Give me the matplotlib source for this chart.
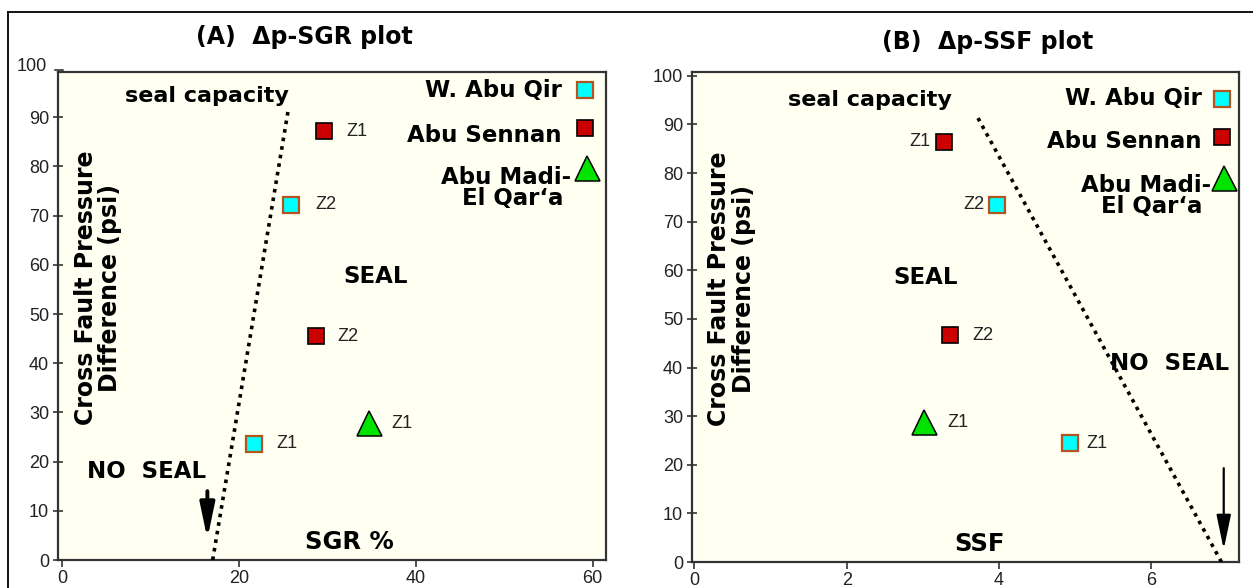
import matplotlib
matplotlib.use("Agg")
import matplotlib.pyplot as plt
from matplotlib.lines import Line2D

# ---------------- data ----------------
# Panel A: delta p vs SGR
sgr_wabuqir = [21.7, 25.9]
dp_sgr_wabuqir = [23.6, 72.2]
zones_wabuqir_a = ["Z1", "Z2"]

sgr_abusennan = [29.6, 28.7]
dp_sgr_abusennan = [87.2, 45.5]
zones_abusennan_a = ["Z1", "Z2"]

sgr_abumadi = [34.7]
dp_sgr_abumadi = [27.8]
zones_abumadi_a = ["Z1"]

seal_line_sgr = [17.0, 25.6]
seal_line_sgr_dp = [0.0, 92.0]

# Panel B: delta p vs SSF
ssf_wabuqir = [4.93, 3.98]
dp_ssf_wabuqir = [24.4, 73.5]
zones_wabuqir_b = ["Z1", "Z2"]

ssf_abusennan = [3.28, 3.36]
dp_ssf_abusennan = [86.4, 46.6]
zones_abusennan_b = ["Z1", "Z2"]

ssf_abumadi = [3.01]
dp_ssf_abumadi = [28.7]
zones_abumadi_b = ["Z1"]

seal_line_ssf = [6.92, 3.70]
seal_line_ssf_dp = [0.0, 92.0]

sgr_ticks = [0, 20, 40, 60]
ssf_ticks = [0, 2, 4, 6]
dp_ticks_a = [0, 10, 20, 30, 40, 50, 60, 70, 80, 90]
dp_ticks_b = [0, 10, 20, 30, 40, 50, 60, 70, 80, 90, 100]

# ---------------- style ----------------
BG = "#fffff2"
BOLD = dict(family="DejaVu Sans", weight="bold")
REG = dict(family="Liberation Sans")
CYAN = dict(marker="s", ms=11, mfc="#00ffff", mec="#b4541e", mew=1.6, ls="none")
RED = dict(marker="s", ms=11.5, mfc="#cc0000", mec="black", mew=1.2, ls="none")
GREEN = dict(marker="^", ms=18, mfc="#00e400", mec="black", mew=1.1, ls="none")
ARROW = "-|>,head_length=1.05,head_width=0.22"

fig = plt.figure(figsize=(12.53, 5.88), dpi=100)
fig.patch.set_facecolor("white")

axA = fig.add_axes([0.0463, 0.0476, 0.4373, 0.8300])
axB = fig.add_axes([0.5523, 0.0442, 0.4365, 0.8334])


def style_axes(ax, xlim, ylim, xticks, yticks):
    ax.set_facecolor(BG)
    ax.set_xlim(*xlim)
    ax.set_ylim(*ylim)
    ax.set_xticks(xticks)
    ax.set_yticks(yticks)
    for s in ax.spines.values():
        s.set_linewidth(1.6)
        s.set_color("#333333")
    ax.tick_params(axis="y", direction="inout", length=7, width=1.1,
                   labelsize=13, pad=3, colors="#222222")
    ax.tick_params(axis="x", direction="out", length=5, width=1.1,
                   labelsize=13, pad=2, colors="#222222")
    for lab in ax.get_xticklabels() + ax.get_yticklabels():
        lab.set_family("Liberation Sans")
    ax.text(0.073, 0.557, "Cross Fault Pressure\nDifference (psi)",
            transform=ax.transAxes, rotation=90, ha="center", va="center",
            fontsize=17, linespacing=1.05, **BOLD)


def plot_points(ax, xs, ys, zones, style, offsets):
    ax.plot(xs, ys, **style, zorder=5)
    for x, y, z, off in zip(xs, ys, zones, offsets):
        ha = "left" if off > 0 else "right"
        ax.annotate(z, (x, y), xytext=(off, 0), textcoords="offset points",
                    ha=ha, va="center", fontsize=13, color="#222222", **REG)


# ---------------- panel A ----------------
style_axes(axA, (-0.5, 61.5), (0, 99.2), sgr_ticks, dp_ticks_a)
# "100" tick sits just above the frame in the original
axA.text(-0.02, 100.3, "100", transform=axA.get_yaxis_transform(), ha="right",
         va="center", fontsize=13, color="#222222", clip_on=False, **REG)
axA.plot([-0.005, 0.01], [99.6, 99.6], transform=axA.get_yaxis_transform(),
         color="#222222", lw=1.1, clip_on=False)

axA.plot(seal_line_sgr, seal_line_sgr_dp, color="black", lw=2.6,
         ls=(0, (1.0, 1.4)), zorder=3)
plot_points(axA, sgr_wabuqir, dp_sgr_wabuqir, zones_wabuqir_a, CYAN, [16, 17])
plot_points(axA, sgr_abusennan, dp_sgr_abusennan, zones_abusennan_a, RED, [16, 15])
plot_points(axA, sgr_abumadi, dp_sgr_abumadi, zones_abumadi_a, GREEN, [16])

# legend-like labels
axA.plot([59.1], [95.5], **CYAN)
axA.plot([59.1], [87.8], **RED)
axA.plot([59.4], [79.6], **GREEN)
axA.text(56.5, 95.5, "W. Abu Qir", ha="right", va="center", fontsize=16.5, **BOLD)
axA.text(56.5, 86.2, "Abu Sennan", ha="right", va="center", fontsize=16.5, **BOLD)
axA.text(57.6, 75.6, "Abu Madi-\nEl Qar\u2018a ", ha="right", va="center",
         multialignment="right", linespacing=0.9, fontsize=16.5, **BOLD)

axA.text(16.3, 94.3, "seal capacity", ha="center", va="center", fontsize=16, **BOLD)
axA.text(35.4, 57.7, "SEAL", ha="center", va="center", fontsize=16.5, **BOLD)
axA.text(9.5, 17.9, "NO  SEAL", ha="center", va="center", fontsize=16.5, **BOLD)
axA.text(32.5, 3.6, "SGR %", ha="center", va="center", fontsize=17.5, **BOLD)
axA.annotate("", xy=(16.4, 4.3), xytext=(16.4, 14.0),
             arrowprops=dict(arrowstyle=ARROW, lw=2.8, color="black",
                             mutation_scale=20, shrinkA=0, shrinkB=0))

# ---------------- panel B ----------------
style_axes(axB, (-0.03, 7.15), (0, 100.8), ssf_ticks, dp_ticks_b)

axB.plot(seal_line_ssf, seal_line_ssf_dp, color="black", lw=2.6,
         ls=(0, (1.0, 1.4)), zorder=3)
plot_points(axB, ssf_wabuqir, dp_ssf_wabuqir, zones_wabuqir_b, CYAN, [12, -9])
plot_points(axB, ssf_abusennan, dp_ssf_abusennan, zones_abusennan_b, RED, [-10, 16])
plot_points(axB, ssf_abumadi, dp_ssf_abumadi, zones_abumadi_b, GREEN, [17])

axB.plot([6.93], [95.3], **CYAN)
axB.plot([6.93], [87.5], **RED)
axB.plot([6.95], [78.9], **GREEN)
axB.text(6.66, 95.3, "W. Abu Qir", ha="right", va="center", fontsize=16.5, **BOLD)
axB.text(6.66, 86.4, "Abu Sennan", ha="right", va="center", fontsize=16.5, **BOLD)
axB.text(6.78, 75.3, "Abu Madi-\nEl Qar\u2018a ", ha="right", va="center",
         multialignment="right", linespacing=0.9, fontsize=16.5, **BOLD)

axB.text(2.31, 95.0, "seal capacity", ha="center", va="center", fontsize=16, **BOLD)
axB.text(3.04, 58.5, "SEAL", ha="center", va="center", fontsize=16.5, **BOLD)
axB.text(6.24, 40.9, "NO  SEAL", ha="center", va="center", fontsize=16.5, **BOLD)
axB.text(3.75, 3.8, "SSF", ha="center", va="center", fontsize=17.5, **BOLD)
axB.annotate("", xy=(6.95, 2.6), xytext=(6.95, 19.3),
             arrowprops=dict(arrowstyle=ARROW, lw=1.6, color="black",
                             mutation_scale=20, shrinkA=0, shrinkB=0))

# ---------------- titles and figure border ----------------
fig.text(0.2426, 0.937, "(A)  \u0394p-SGR plot", ha="center", va="center",
         fontsize=17, **BOLD)
fig.text(0.7885, 0.9286, "(B)  \u0394p-SSF plot", ha="center", va="center",
         fontsize=17, **BOLD)

fig.add_artist(Line2D([0.0064, 1.0], [0.9796, 0.9796], transform=fig.transFigure,
                      color="black", lw=1.3))
fig.add_artist(Line2D([0.0064, 0.0064], [0.0, 0.9796], transform=fig.transFigure,
                      color="black", lw=1.3))

fig.savefig("out.png", dpi=100, facecolor="white")
